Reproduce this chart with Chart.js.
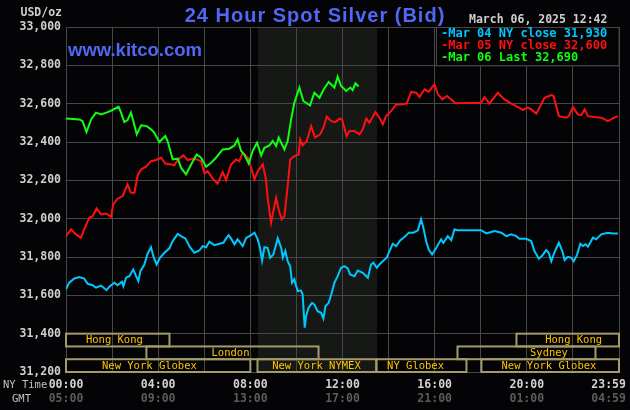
<!DOCTYPE html>
<html><head><meta charset="utf-8">
<script src="https://cdn.jsdelivr.net/npm/chart.js@4.4.1/dist/chart.umd.min.js"></script>
<style>html,body{margin:0;padding:0;background:#040406;overflow:hidden}canvas{display:block}</style>
</head><body>
<canvas id="c" width="630" height="410"></canvas>
<script>
const chartTitle = '24 Hour Spot Silver (Bid)';
const siteLabel = 'www.kitco.com';
const dateLabel = 'March 06, 2025 12:42';
const unitLabel = 'USD/oz';
const seriesNames = ['Mar 04 NY close 31,930', 'Mar 05 NY close 32,600', 'Mar 06 Last 32,690'];
const seriesColors = ['#00c8ff', '#ff1010', '#10ff10'];

const yMin = 31200, yMax = 33000, yStep = 200;
const xTickHours = [0, 4, 8, 12, 16, 20, 24];
const nyTimeLabels = ['00:00', '04:00', '08:00', '12:00', '16:00', '20:00', '23:59'];
const gmtLabels = ['05:00', '09:00', '13:00', '17:00', '21:00', '01:00', '04:59'];

// NYMEX pit session (shaded), hours NY time
const nymexHours = [8.33, 13.5];

// trading sessions band
const sessionNames = ['Hong Kong', 'Hong Kong', 'London', 'Sydney', 'New York Globex', 'New York NYMEX', 'NY Globex', 'New York Globex'];
const sessionStart = [0, 19.55, 3.49, 16.99, 0, 8.31, 13.47, 18.03];
const sessionEnd   = [4.49, 24, 10.96, 22.98, 8.0, 13.47, 17.38, 24];
const sessionRow   = [0, 0, 1, 1, 2, 2, 2, 2];
const sessionLabelAt = [2.1, 22.03, 7.14, 20.96, 3.62, 10.87, 15.17, 20.96];

// Mar 04 (cyan)
const mar04Hours = [0.00,0.14,0.36,0.58,0.79,0.94,1.16,1.30,1.52,1.76,1.88,2.10,2.24,2.43,2.49,2.61,2.75,2.92,3.04,3.14,3.23,3.40,3.54,3.69,3.79,3.93,4.08,4.27,4.49,4.63,4.85,4.99,5.18,5.38,5.57,5.79,5.93,6.08,6.22,6.44,6.66,6.83,6.95,7.06,7.16,7.31,7.45,7.67,7.82,8.03,8.18,8.32,8.42,8.51,8.61,8.75,8.86,9.00,9.19,9.34,9.41,9.52,9.62,9.73,9.81,9.91,9.99,10.06,10.20,10.27,10.36,10.42,10.53,10.68,10.78,10.92,11.07,11.17,11.26,11.40,11.51,11.65,11.79,11.94,12.08,12.23,12.33,12.52,12.66,12.88,13.10,13.24,13.34,13.49,13.60,13.75,13.92,14.04,14.18,14.33,14.50,14.69,14.88,15.08,15.27,15.41,15.51,15.63,15.74,15.89,16.07,16.28,16.38,16.57,16.72,16.86,17.00,18.02,18.24,18.45,18.60,18.89,19.11,19.32,19.54,19.68,19.97,20.19,20.33,20.52,20.67,20.84,20.95,21.06,21.20,21.39,21.54,21.64,21.78,21.93,22.03,22.17,22.32,22.43,22.55,22.65,22.87,23.01,23.23,23.52,23.73,23.95];
const mar04Values = [31631,31666,31688,31695,31687,31660,31653,31640,31651,31627,31645,31666,31653,31671,31648,31692,31700,31735,31700,31674,31726,31761,31817,31851,31804,31761,31796,31822,31845,31883,31921,31909,31897,31851,31822,31834,31857,31851,31880,31862,31869,31874,31897,31914,31897,31866,31892,31857,31900,31914,31927,31892,31848,31782,31851,31848,31796,31813,31897,31848,31796,31831,31778,31752,31666,31683,31648,31622,31625,31605,31431,31491,31535,31561,31552,31517,31509,31479,31543,31561,31604,31666,31700,31744,31752,31740,31709,31700,31730,31718,31692,31761,31770,31744,31761,31778,31796,31831,31869,31857,31886,31904,31927,31927,31939,31996,31953,31883,31839,31813,31848,31892,31874,31909,31888,31944,31940,31940,31923,31930,31935,31927,31909,31918,31909,31895,31895,31883,31831,31791,31808,31836,31822,31778,31825,31874,31831,31784,31801,31796,31778,31808,31869,31857,31866,31854,31901,31892,31918,31927,31923,31923];

// Mar 05 (red)
const mar05Hours = [0.00,0.22,0.43,0.65,0.79,1.01,1.16,1.33,1.52,1.74,1.95,2.05,2.24,2.46,2.67,2.82,2.97,3.11,3.26,3.47,3.69,3.91,4.13,4.31,4.56,4.70,4.85,5.09,5.28,5.50,5.67,5.86,6.01,6.15,6.37,6.58,6.80,6.95,7.16,7.38,7.52,7.67,7.89,8.03,8.18,8.32,8.54,8.68,8.75,8.90,9.00,9.12,9.23,9.36,9.48,9.62,9.73,9.91,10.10,10.16,10.27,10.45,10.64,10.81,11.03,11.17,11.32,11.51,11.69,11.87,11.98,12.18,12.30,12.52,12.74,12.88,13.03,13.17,13.43,13.60,13.75,13.89,14.11,14.33,14.55,14.79,14.98,15.20,15.34,15.56,15.74,15.99,16.14,16.33,16.53,16.72,16.90,18.02,18.16,18.38,18.74,19.03,19.25,19.54,19.83,20.04,20.19,20.41,20.77,21.06,21.16,21.39,21.71,21.82,22.00,22.21,22.36,22.51,22.65,22.94,23.23,23.52,23.73,23.95];
const mar05Values = [31909,31944,31918,31901,31944,32005,32013,32053,32022,32027,32010,32074,32104,32118,32179,32135,32135,32226,32257,32271,32300,32306,32318,32288,32283,32278,32306,32330,32306,32313,32309,32300,32236,32248,32209,32182,32243,32201,32283,32309,32300,32344,32318,32267,32205,32248,32283,32205,32109,31979,32039,32109,32048,31996,32013,32170,32309,32326,32335,32414,32382,32405,32483,32423,32440,32475,32532,32509,32504,32522,32518,32431,32457,32457,32440,32466,32522,32501,32556,32527,32492,32535,32561,32596,32596,32602,32661,32657,32635,32675,32663,32701,32649,32622,32640,32622,32602,32605,32634,32600,32657,32622,32605,32587,32567,32579,32570,32548,32631,32645,32640,32535,32527,32535,32582,32544,32540,32570,32535,32530,32527,32509,32523,32535];

// Mar 06 (green)
const mar06Hours = [0.00,0.58,0.72,0.89,1.09,1.30,1.52,1.81,2.02,2.28,2.39,2.53,2.67,2.82,2.92,3.07,3.26,3.50,3.69,3.83,4.05,4.31,4.41,4.63,4.85,4.99,5.21,5.43,5.67,5.86,6.08,6.30,6.51,6.80,7.09,7.31,7.45,7.60,7.74,7.93,8.10,8.29,8.47,8.61,8.83,8.97,9.12,9.23,9.48,9.62,9.77,9.91,10.13,10.30,10.59,10.78,11.00,11.17,11.40,11.65,11.79,11.94,12.16,12.34,12.44,12.56,12.70];
const mar06Values = [32522,32518,32509,32452,32518,32553,32544,32556,32567,32584,32553,32504,32514,32553,32509,32440,32487,32483,32466,32449,32400,32431,32405,32309,32313,32266,32231,32283,32335,32318,32271,32292,32318,32361,32365,32382,32414,32353,32335,32288,32353,32396,32330,32370,32382,32405,32379,32423,32361,32405,32518,32605,32684,32614,32591,32657,32631,32671,32713,32684,32741,32692,32666,32684,32671,32706,32690];

const MONO = "'DejaVu Sans Mono', monospace";
const BG = '#040406';
const GRID = '#474747';

function toPoints(hours, values) { return hours.map((h, i) => ({ x: h, y: values[i] })); }

function xLabel(value, labels) {
  const idx = xTickHours.indexOf(Math.round(value));
  if (idx < 0 || Math.abs(value - xTickHours[idx]) > 1e-6) return '';
  return idx === xTickHours.length - 1 ? labels[idx] + '   ' : labels[idx];
}

const decor = {
  id: 'decor',
  beforeDraw(chart) {
    const { ctx, chartArea: a, scales } = chart;
    ctx.save();
    ctx.fillStyle = BG;
    ctx.fillRect(0, 0, chart.width, chart.height);
    const x1 = scales.x.getPixelForValue(nymexHours[0]);
    const x2 = scales.x.getPixelForValue(nymexHours[1]);
    ctx.fillStyle = '#151815';
    ctx.fillRect(x1, a.top, x2 - x1, a.bottom - a.top);
    ctx.restore();
  },
  afterDraw(chart) {
    const { ctx, chartArea: a, scales } = chart;
    const xs = scales.x, ys = scales.y;
    ctx.save();
    // session bands
    const top = ys.getPixelForValue(31400), bot = ys.getPixelForValue(yMin);
    const rh = (bot - top) / 3;
    ctx.lineWidth = 2;
    ctx.strokeStyle = '#a39b6b';
    ctx.font = '10.5px ' + MONO;
    ctx.textAlign = 'center';
    ctx.textBaseline = 'middle';
    sessionNames.forEach((name, i) => {
      const sx1 = xs.getPixelForValue(sessionStart[i]);
      const sx2 = xs.getPixelForValue(sessionEnd[i]);
      const sy = top + sessionRow[i] * rh;
      ctx.strokeRect(sx1, sy, sx2 - sx1, rh);
    });
    ctx.fillStyle = '#ffc400';
    sessionNames.forEach((name, i) => {
      const sy = top + sessionRow[i] * rh;
      ctx.fillText(name, xs.getPixelForValue(sessionLabelAt[i]), sy + rh / 2 + 0.5);
    });

    // legend box
    const lbx = a.right - 183, lby = a.top, lbb = ys.getPixelForValue(32800);
    ctx.fillStyle = BG;
    ctx.fillRect(lbx, lby, a.right - lbx, lbb - lby);
    ctx.lineWidth = 1;
    ctx.strokeStyle = GRID;
    ctx.strokeRect(lbx + 0.5, lby + 0.5, a.right - lbx - 0.5, lbb - lby);
    ctx.font = 'bold 12px ' + MONO;
    ctx.textAlign = 'left';
    ctx.textBaseline = 'middle';
    seriesNames.forEach((n, i) => {
      ctx.fillStyle = seriesColors[i];
      ctx.fillText('-' + n, lbx + 5, lby + 7 + i * 12);
    });

    // texts
    ctx.fillStyle = '#cfcfcf';
    ctx.font = 'bold 11.5px ' + MONO;
    ctx.textAlign = 'left';
    ctx.fillText(dateLabel, 469, 20);
    ctx.textAlign = 'right';
    ctx.fillText(unitLabel, 62, 13);

    ctx.fillStyle = '#5068f2';
    ctx.textAlign = 'center';
    ctx.textBaseline = 'alphabetic';
    ctx.font = 'bold 20px "Liberation Sans", Arial, sans-serif';
    if ('letterSpacing' in ctx) ctx.letterSpacing = '1px';
    ctx.fillText(chartTitle, 315, 22);
    if ('letterSpacing' in ctx) ctx.letterSpacing = '0px';
    ctx.textAlign = 'left';
    ctx.font = 'bold 18.5px "Liberation Sans", Arial, sans-serif';
    ctx.fillText(siteLabel, 68, 56);

    ctx.fillStyle = '#c0c0c0';
    ctx.font = '10.5px ' + MONO;
    ctx.textBaseline = 'middle';
    ctx.textAlign = 'left';
    ctx.fillText('NY Time', 3, 385);
    ctx.fillText('GMT', 12, 399);
    ctx.restore();
  }
};

new Chart(document.getElementById('c'), {
  type: 'line',
  data: {
    datasets: [
      { data: toPoints(mar04Hours, mar04Values), borderColor: seriesColors[0], order: 3 },
      { data: toPoints(mar05Hours, mar05Values), borderColor: seriesColors[1], order: 2 },
      { data: toPoints(mar06Hours, mar06Values), borderColor: seriesColors[2], order: 1 }
    ]
  },
  options: {
    responsive: false,
    animation: false,
    devicePixelRatio: 1,
    layout: { padding: { top: 27, right: 11, bottom: 4, left: 0 } },
    elements: {
      line: { borderWidth: 2, tension: 0, fill: false },
      point: { radius: 0 }
    },
    plugins: { legend: { display: false }, tooltip: { enabled: false } },
    scales: {
      x: {
        type: 'linear', position: 'bottom', min: 0, max: 24,
        grid: { color: GRID, lineWidth: 1, drawTicks: false },
        border: { display: true, color: GRID },
        ticks: {
          stepSize: 2, autoSkip: false, maxRotation: 0, padding: 6,
          color: '#d2d2d2', font: { family: MONO, size: 11.5, weight: 'bold', lineHeight: 1.2 },
          callback: (v) => xLabel(v, nyTimeLabels)
        },
        afterFit: (s) => { s.height = 20; s.paddingLeft = 0; s.paddingRight = 0; }
      },
      xg: {
        type: 'linear', position: 'bottom', min: 0, max: 24,
        grid: { display: false, drawTicks: false },
        border: { display: false },
        ticks: {
          stepSize: 2, autoSkip: false, maxRotation: 0, padding: 0,
          color: '#5c5c5c', font: { family: MONO, size: 11.5, weight: 'bold', lineHeight: 1.2 },
          callback: (v) => xLabel(v, gmtLabels)
        },
        afterFit: (s) => { s.height = 14; s.paddingLeft = 0; s.paddingRight = 0; }
      },
      y: {
        position: 'left', min: yMin, max: yMax,
        grid: { color: GRID, lineWidth: 1, drawTicks: false },
        border: { display: true, color: GRID },
        ticks: {
          stepSize: yStep, padding: 5,
          color: '#cfcfcf', font: { family: MONO, size: 11.5, weight: 'bold' },
          callback: (v) => v.toLocaleString('en-US')
        },
        afterFit: (s) => { s.width = 66; }
      }
    }
  },
  plugins: [decor]
});
</script>
</body></html>
